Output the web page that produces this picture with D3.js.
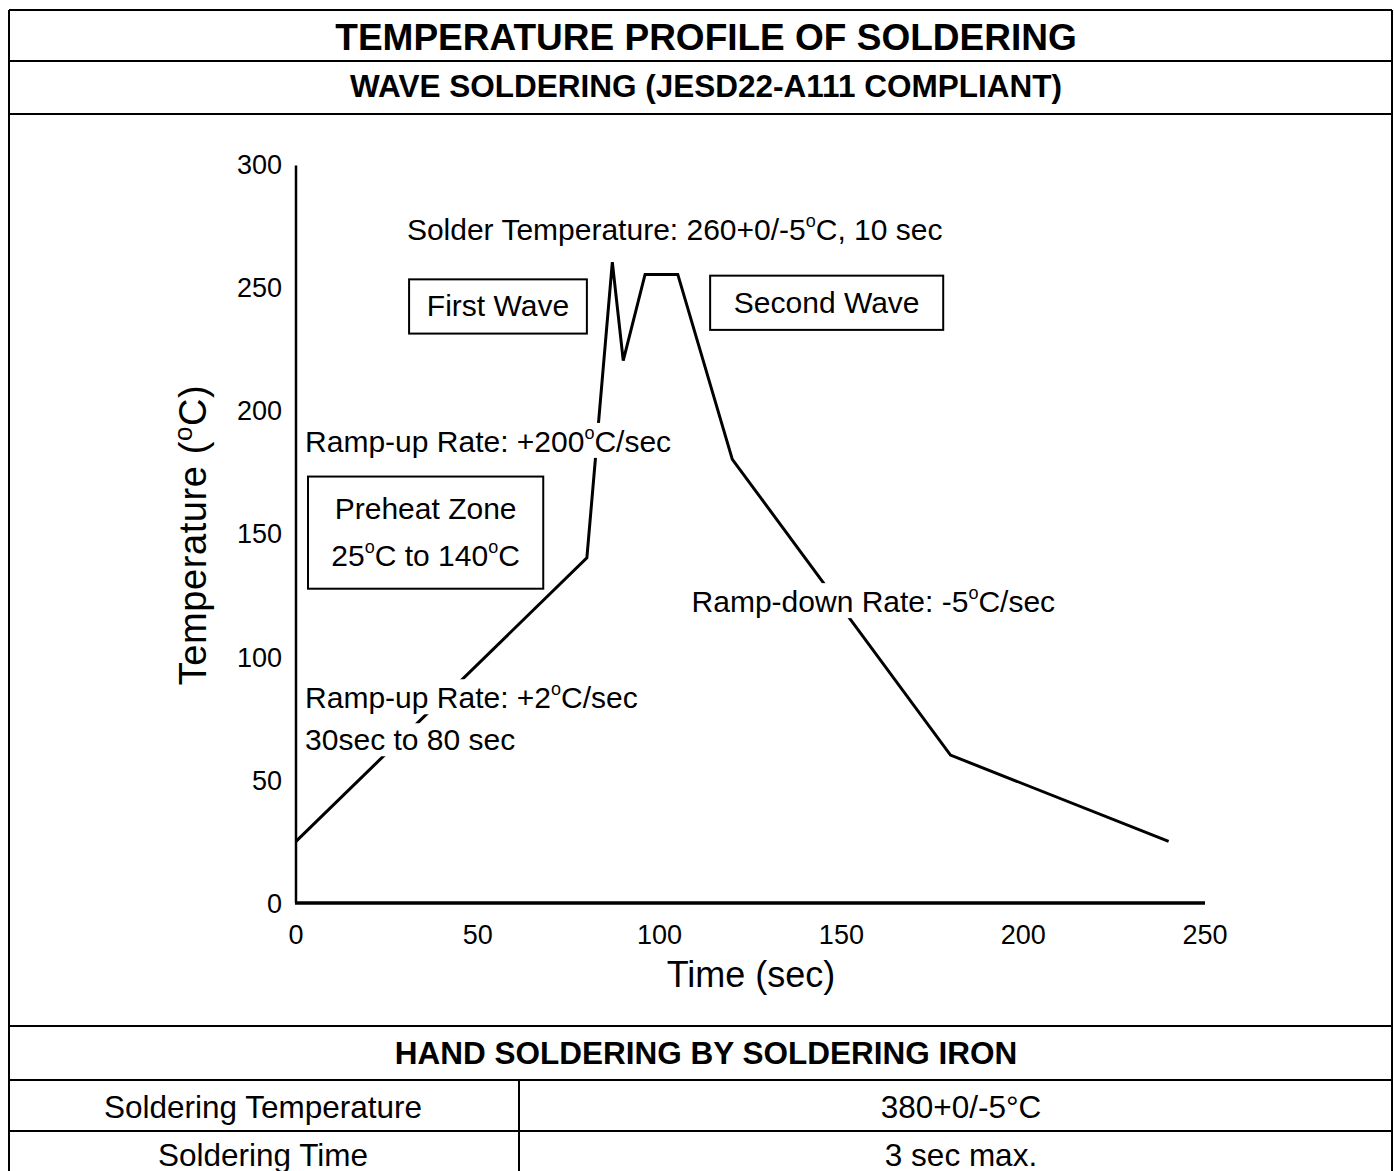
<!DOCTYPE html>
<html>
<head>
<meta charset="utf-8">
<script src="https://cdn.jsdelivr.net/npm/d3@7"></script>
<style>
  body { margin: 0; background: #fff; }
  svg { display: block; font-family: "Liberation Sans", Arial, sans-serif; }
</style>
</head>
<body>
<svg id="chart" width="1394" height="1171"></svg>
<script>
// profile data: time (sec) and temperature (degC)
const times = [0, 80, 87, 90, 96, 105, 120, 180, 240];
const temps = [25, 140, 260, 220, 255, 255, 180, 60, 25];
const xTicks = [0, 50, 100, 150, 200, 250];
const yTicks = [0, 50, 100, 150, 200, 250, 300];

// annotations, in data units (sec, degC)
const notes = [
  { t: 30.5, v: 269, lines: [["Solder Temperature: 260+0/-5", "o", "C, 10 sec"]] },
  { t: 2.5, v: 183, lines: [["Ramp-up Rate: +200", "o", "C/sec"]] },
  { t: 2.5, v: 79, lines: [["Ramp-up Rate: +2", "o", "C/sec"], ["30sec to 80 sec"]] },
  { t: 108.8, v: 118, lines: [["Ramp-down Rate: -5", "o", "C/sec"]] }
];
const boxes = [
  { t0: 31.1, t1: 80, v0: 231, v1: 253, lines: [["First Wave"]] },
  { t0: 113.9, t1: 178, v0: 232.5, v1: 254.5, lines: [["Second Wave"]] },
  { t0: 3.3, t1: 68, v0: 127.5, v1: 173, lines: [["Preheat Zone"], ["25", "o", "C to 140", "o", "C"]] }
];
const handRows = [
  ["Soldering Temperature", "380+0/-5°C"],
  ["Soldering Time", "3 sec max."]
];

const svg = d3.select("#chart");
const W = 1392, L = 9;

// frame lines
const hLines = [10, 61, 114, 1026, 1080, 1131];
svg.selectAll("line.frame").data(hLines).enter().append("line")
  .attr("x1", L).attr("x2", W).attr("y1", d => d).attr("y2", d => d)
  .attr("stroke", "#000").attr("stroke-width", 2);
svg.append("line").attr("x1", L).attr("x2", L).attr("y1", 10).attr("y2", 1171)
  .attr("stroke", "#000").attr("stroke-width", 2);
svg.append("line").attr("x1", W).attr("x2", W).attr("y1", 10).attr("y2", 1171)
  .attr("stroke", "#000").attr("stroke-width", 2);
svg.append("line").attr("x1", 519).attr("x2", 519).attr("y1", 1080).attr("y2", 1171)
  .attr("stroke", "#000").attr("stroke-width", 2);

// headings
svg.append("text").attr("x", 706).attr("y", 50).attr("text-anchor", "middle")
  .attr("font-size", 37).attr("font-weight", "bold").text("TEMPERATURE PROFILE OF SOLDERING");
svg.append("text").attr("x", 706).attr("y", 97).attr("text-anchor", "middle")
  .attr("font-size", 31.5).attr("font-weight", "bold").text("WAVE SOLDERING (JESD22-A111 COMPLIANT)");
svg.append("text").attr("x", 706).attr("y", 1064).attr("text-anchor", "middle")
  .attr("font-size", 31.5).attr("font-weight", "bold").text("HAND SOLDERING BY SOLDERING IRON");

handRows.forEach((r, i) => {
  const y = 1118 + i * 48;
  svg.append("text").attr("x", 263).attr("y", y).attr("text-anchor", "middle")
    .attr("font-size", 31.5).text(r[0]);
  svg.append("text").attr("x", 961).attr("y", y).attr("text-anchor", "middle")
    .attr("font-size", 31.5).text(r[1]);
});

// scales
const x = d3.scaleLinear().domain([0, 250]).range([296, 1205]);
const y = d3.scaleLinear().domain([0, 300]).range([903, 163.5]);

// axes
const g = svg.append("g").attr("class", "axes");
g.append("line").attr("x1", x(0)).attr("x2", x(0)).attr("y1", y(300) + 2).attr("y2", y(0))
  .attr("stroke", "#000").attr("stroke-width", 2.5);
g.append("line").attr("x1", x(0) - 1).attr("x2", x(250)).attr("y1", y(0)).attr("y2", y(0))
  .attr("stroke", "#000").attr("stroke-width", 3.5);

g.selectAll("text.xt").data(xTicks).enter().append("text")
  .attr("x", d => x(d)).attr("y", 944).attr("text-anchor", "middle")
  .attr("font-size", 27).text(d => d);
g.selectAll("text.yt").data(yTicks).enter().append("text")
  .attr("x", 282).attr("y", d => y(d) + 10).attr("text-anchor", "end")
  .attr("font-size", 27).text(d => d);

svg.append("text").attr("x", 751).attr("y", 987).attr("text-anchor", "middle")
  .attr("font-size", 36).text("Time (sec)");
const yl = svg.append("text").attr("transform", "translate(206,535) rotate(-90)")
  .attr("text-anchor", "middle").attr("font-size", 38).attr("letter-spacing", 0.6);
yl.append("tspan").text("Temperature (");
yl.append("tspan").attr("font-size", 26).attr("dy", -14).text("o");
yl.append("tspan").attr("dy", 14).text("C)");

// profile line
const pts = times.map((t, i) => [t, temps[i]]);
const line = d3.line().x(d => x(d[0])).y(d => y(d[1]));
svg.append("path").datum(pts).attr("d", line)
  .attr("fill", "none").attr("stroke", "#000").attr("stroke-width", 3)
  .attr("stroke-linejoin", "miter");

// text helper with superscript "o"
function writeLine(sel, parts) {
  parts.forEach((p, j) => {
    if (p === "o") {
      sel.append("tspan").attr("font-size", 18).attr("dy", -13).text("o");
    } else {
      const ts = sel.append("tspan").text(p);
      if (j > 0 && parts[j - 1] === "o") ts.attr("dy", 13);
    }
  });
}

const ann = svg.append("g").attr("font-size", 30);
notes.forEach(n => {
  n.lines.forEach((ln, k) => {
    const gg = ann.append("g");
    const tx = gg.append("text").attr("x", x(n.t)).attr("y", y(n.v) + k * 42);
    writeLine(tx, ln);
    const bb = tx.node().getBBox();
    gg.insert("rect", "text").attr("x", bb.x - 2).attr("y", bb.y)
      .attr("width", bb.width + 4).attr("height", bb.height).attr("fill", "#fff");
  });
});

boxes.forEach(b => {
  const x0 = x(b.t0), x1 = x(b.t1), y0 = y(b.v1), y1 = y(b.v0);
  ann.append("rect").attr("x", x0).attr("y", y0).attr("width", x1 - x0).attr("height", y1 - y0)
    .attr("fill", "#fff").attr("stroke", "#000").attr("stroke-width", 2);
  const n = b.lines.length;
  const cy = (y0 + y1) / 2;
  b.lines.forEach((ln, k) => {
    const tx = ann.append("text").attr("x", (x0 + x1) / 2)
      .attr("y", cy + 10 + (k - (n - 1) / 2) * 47).attr("text-anchor", "middle");
    writeLine(tx, ln);
  });
});
</script>
</body>
</html>
